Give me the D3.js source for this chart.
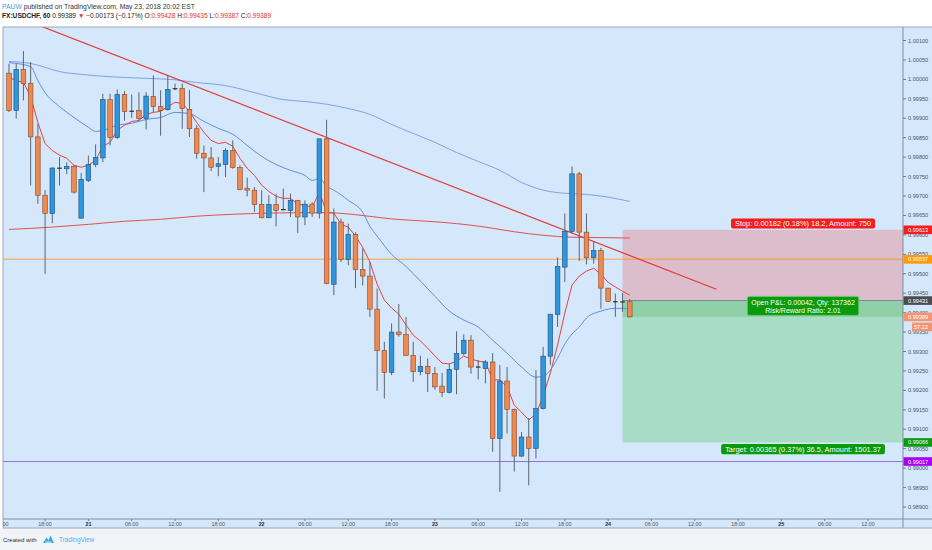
<!DOCTYPE html>
<html><head><meta charset="utf-8">
<script src="https://cdn.jsdelivr.net/npm/d3@7"></script>
<style>
html,body{margin:0;padding:0;background:#fff;}
svg{display:block;font-family:"Liberation Sans",Arial,sans-serif;}
</style></head><body>
<svg id="c" width="932" height="550"></svg>
<script>
// ---------- DATA ----------
const symbol = "FX:USDCHF, 60";
const publishedBy = "PAUW";
const publishedText = " published on TradingView.com, May 23, 2018 20:02 EST";
const change = -0.00173, changePct = -0.17;

// hourly bars, bar 0 = May 20 13:00
const open  = [1.00016,0.99920,1.00025,0.99990,0.99852,0.99702,0.99655,0.99772,0.99770,0.99776,
 0.99643,0.99740,0.99781,0.99798,0.99948,0.99850,0.99961,0.99918,0.99920,0.99899,
 0.99956,0.99930,0.99922,0.99976,0.99977,0.99923,0.99873,0.99810,0.99798,0.99776,
 0.99781,0.99817,0.99773,0.99720,0.99715,0.99678,0.99644,0.99678,0.99665,0.99663,
 0.99689,0.99646,0.99679,0.99656,0.99847,0.99473,0.99633,0.99537,0.99601,0.99511,
 0.99494,0.99409,0.99303,0.99246,0.99350,0.99344,0.99290,0.99248,0.99262,0.99243,
 0.99211,0.99195,0.99254,0.99295,0.99329,0.99260,0.99256,0.99273,0.99076,0.99224,
 0.99151,0.99031,0.99080,0.99051,0.99153,0.99288,0.99395,0.99517,0.99609,0.99757,
 0.99607,0.99541,0.99560,0.99463,0.99428,0.99427,0.99428];
const high  = [1.00040,1.00040,1.00073,1.00044,0.99886,0.99715,0.99774,0.99800,0.99787,0.99779,
 0.99759,0.99804,0.99833,0.99963,0.99963,0.99974,0.99970,0.99961,0.99967,0.99967,
 1.00010,0.99972,1.00010,0.99989,0.99989,0.99973,0.99882,0.99830,0.99826,0.99800,
 0.99823,0.99843,0.99779,0.99747,0.99723,0.99715,0.99702,0.99706,0.99719,0.99706,
 0.99689,0.99689,0.99684,0.99847,0.99896,0.99668,0.99642,0.99629,0.99607,0.99565,
 0.99530,0.99462,0.99325,0.99372,0.99422,0.99389,0.99325,0.99289,0.99282,0.99260,
 0.99245,0.99269,0.99352,0.99344,0.99342,0.99278,0.99278,0.99296,0.99265,0.99260,
 0.99153,0.99093,0.99129,0.99252,0.99312,0.99396,0.99542,0.99655,0.99776,0.99762,
 0.99655,0.99583,0.99567,0.99463,0.99449,0.99451,0.99435];
const low   = [0.99916,0.99899,0.99946,0.99727,0.99680,0.99500,0.99630,0.99727,0.99756,0.99706,
 0.99642,0.99736,0.99774,0.99787,0.99830,0.99847,0.99894,0.99901,0.99894,0.99871,
 0.99916,0.99855,0.99920,0.99972,0.99873,0.99852,0.99796,0.99710,0.99764,0.99751,
 0.99749,0.99770,0.99715,0.99699,0.99659,0.99643,0.99643,0.99622,0.99663,0.99646,
 0.99605,0.99625,0.99646,0.99642,0.99473,0.99445,0.99530,0.99522,0.99463,0.99470,
 0.99389,0.99199,0.99179,0.99239,0.99338,0.99289,0.99222,0.99239,0.99196,0.99202,
 0.99183,0.99192,0.99190,0.99290,0.99243,0.99228,0.99218,0.99042,0.98939,0.99089,
 0.98991,0.99029,0.98956,0.99025,0.99151,0.99265,0.99363,0.99479,0.99603,0.99533,
 0.99524,0.99526,0.99410,0.99427,0.99389,0.99402,0.99387];
const close = [0.99920,1.00025,0.99989,0.99852,0.99702,0.99655,0.99772,0.99771,0.99776,0.99710,
 0.99743,0.99781,0.99799,0.99948,0.99850,0.99961,0.99917,0.99918,0.99899,0.99957,
 0.99930,0.99920,0.99974,0.99976,0.99925,0.99873,0.99810,0.99798,0.99774,0.99783,
 0.99817,0.99773,0.99717,0.99715,0.99678,0.99644,0.99678,0.99663,0.99665,0.99689,
 0.99646,0.99679,0.99656,0.99847,0.99475,0.99633,0.99537,0.99601,0.99511,0.99494,
 0.99409,0.99302,0.99246,0.99350,0.99344,0.99290,0.99248,0.99262,0.99243,0.99209,
 0.99195,0.99254,0.99295,0.99329,0.99260,0.99260,0.99273,0.99076,0.99224,0.99151,
 0.99031,0.99080,0.99051,0.99153,0.99288,0.99396,0.99519,0.99609,0.99757,0.99607,
 0.99541,0.99560,0.99463,0.99429,0.99428,0.99428,0.99389];

// fast red moving average, one value per bar
const fastRed = [1.00005,0.99997,0.99992,0.99956,0.99889,0.99835,0.99817,0.99805,0.99797,0.99779,
 0.99774,0.99779,0.99792,0.99828,0.99838,0.99869,0.99882,0.99892,0.99894,0.99910,
 0.99915,0.99918,0.99930,0.99941,0.99938,0.99918,0.99889,0.99864,0.99843,0.99835,
 0.99838,0.99828,0.99797,0.99771,0.99753,0.99728,0.99712,0.99699,0.99694,0.99694,
 0.99679,0.99676,0.99671,0.99710,0.99658,0.99656,0.99627,0.99620,0.99597,0.99568,
 0.99530,0.99473,0.99432,0.99412,0.99396,0.99368,0.99342,0.99327,0.99309,0.99288,
 0.99270,0.99268,0.99275,0.99288,0.99281,0.99275,0.99273,0.99227,0.99227,0.99209,
 0.99162,0.99144,0.99124,0.99139,0.99185,0.99245,0.99317,0.99399,0.99471,0.99494,
 0.99507,0.99514,0.99499,0.99478,0.99466,0.99455,0.99445];

// medium blue moving average (read at these bars)
const midBlueBars = [0,3,4,5,7,9,11,12,13,15,17,19,21,23,25,27,29,31,33,35,37,39,41,42,43,44,45,47,49,50,
 51,53,55,57,59,61,63,65,67,69,71,73,74,75,76,77,78,79,80,82,84,86];
const midBlue = [1.00043,1.00033,0.99997,0.99966,0.99930,0.99902,0.99877,0.99866,0.99869,0.99882,
 0.99887,0.99897,0.99902,0.99915,0.99912,0.99892,0.99874,0.99859,0.99830,0.99802,
 0.99781,0.99766,0.99753,0.99740,0.99745,0.99725,0.99715,0.99689,0.99658,0.99622,
 0.99597,0.99550,0.99519,0.99481,0.99442,0.99404,0.99381,0.99363,0.99329,0.99296,
 0.99260,0.99234,0.99237,0.99252,0.99283,0.99319,0.99345,0.99363,0.99386,0.99404,
 0.99411,0.99411];

// slow blue moving average
const slowBlueBars = [0,3,5,7,10,13,16,20,23,26,30,34,38,41,44,47,50,53,56,59,62,65,68,71,74,77,80,83,86];
const slowBlue = [1.00046,1.00041,1.00031,1.00020,1.00013,1.00008,1.00005,1.00002,0.99999,0.99992,
 0.99984,0.99966,0.99948,0.99943,0.99936,0.99925,0.99910,0.99884,0.99861,0.99838,
 0.99812,0.99789,0.99766,0.99735,0.99715,0.99707,0.99704,0.99697,0.99686];

// slow red moving average
const slowRedBars = [0,6,11,16,21,26,31,36,41,44,48,53,58,62,66,70,74,78,82,86];
const slowRed = [0.99614,0.99620,0.99627,0.99635,0.99640,0.99648,0.99653,0.99656,0.99657,0.99657,
 0.99652,0.99641,0.99635,0.99629,0.99620,0.99608,0.99599,0.99594,0.99593,0.99592];

// drawings
const trendBars = [4, 98];
const trendPrices = [1.00140, 0.99460];
const hLinePrices = [0.99537, 0.99017];
const posBars = [85, 135];
const posEntry = 0.99431, posStop = 0.99613, posTarget = 0.99066;
const stopText = "Stop: 0.00182 (0.18%) 18.2, Amount: 750";
const pnlText = ["Open P&L: 0.00042, Qty: 137362", "Risk/Reward Ratio: 2.01"];
const targetText = "Target: 0.00365 (0.37%) 36.5, Amount: 1501.37";
const countdown = "57:22";

// axes
const priceTicks = [0.98900,0.98950,0.99000,0.99050,0.99100,0.99150,0.99200,0.99250,0.99300,0.99350,
 0.99400,0.99450,0.99500,0.99550,0.99600,0.99650,0.99700,0.99750,0.99800,0.99850,
 0.99900,0.99950,1.00000,1.00050,1.00100];
const timeTickBars = [-1,5,11,17,23,29,35,41,47,53,59,65,71,77,83,89,95,101,107,113,119];
const timeTickLabels = ["12:00","18:00","21","06:00","12:00","18:00","22","06:00","12:00","18:00",
 "23","06:00","12:00","18:00","24","06:00","12:00","18:00","25","06:00","12:00"];

// ---------- LAYOUT ----------
const W = 932, H = 550;
const L = 3, R = 903, T = 27, B = 519, FB = 528;
const svg = d3.select("#c");
const x = d3.scaleLinear().domain([-0.83, 123.85]).range([L, R]);
const y = d3.scaleLinear().domain([0.989, 1.001]).range([507, 40.5]);
const fmt = d3.format(".5f");
const bodyW = (x(1) - x(0)) * 0.64;
const last = close.length - 1;

svg.append("rect").attr("width", W).attr("height", H).attr("fill", "#ffffff");
svg.append("rect").attr("x", 0).attr("y", FB).attr("width", W).attr("height", H - FB).attr("fill", "#f1f3f6");
svg.append("rect").attr("x", L).attr("y", T).attr("width", W - L).attr("height", FB - T)
  .attr("fill", "#d4e7fb");

svg.append("clipPath").attr("id", "plotclip").append("rect")
  .attr("x", L).attr("y", T).attr("width", R - L).attr("height", B - T);
const plot = svg.append("g").attr("clip-path", "url(#plotclip)");

// position tool boxes
const px0 = x(posBars[0]), px1 = x(posBars[1]);
plot.append("rect").attr("x", px0).attr("y", y(posStop)).attr("width", px1 - px0)
  .attr("height", y(posEntry) - y(posStop)).attr("fill", "#dcbdcc");
plot.append("rect").attr("x", px0).attr("y", y(posEntry)).attr("width", px1 - px0)
  .attr("height", y(posTarget) - y(posEntry)).attr("fill", "#a9dcc6");
plot.append("rect").attr("x", px0).attr("y", y(posEntry)).attr("width", px1 - px0)
  .attr("height", y(close[last]) - y(posEntry)).attr("fill", "#8fd0a9");
plot.append("line").attr("x1", px0).attr("x2", px1).attr("y1", y(posEntry)).attr("y2", y(posEntry))
  .attr("stroke", "#7b8794").attr("stroke-width", 1);

// horizontal lines
plot.append("line").attr("x1", L).attr("x2", R).attr("y1", y(hLinePrices[0])).attr("y2", y(hLinePrices[0]))
  .attr("stroke", "rgba(255,150,20,0.55)").attr("stroke-width", 1.5);
plot.append("line").attr("x1", L).attr("x2", R).attr("y1", y(hLinePrices[1])).attr("y2", y(hLinePrices[1]))
  .attr("stroke", "#9370db").attr("stroke-width", 1);

// moving averages
const smooth = d3.line().x(d => x(d[0])).y(d => y(d[1])).curve(d3.curveMonotoneX);
const straight = d3.line().x(d => x(d[0])).y(d => y(d[1]));
function pairs(bars, vals) { return bars.map((b, i) => [b, vals[i]]); }
plot.append("path").attr("d", smooth(pairs(slowBlueBars, slowBlue)))
  .attr("fill", "none").attr("stroke", "#7ea3e6").attr("stroke-width", 1);
plot.append("path").attr("d", smooth(pairs(slowRedBars, slowRed)))
  .attr("fill", "none").attr("stroke", "#e2504d").attr("stroke-width", 1);
plot.append("path").attr("d", smooth(pairs(midBlueBars, midBlue)))
  .attr("fill", "none").attr("stroke", "#5f90dc").attr("stroke-width", 1);
plot.append("path").attr("d", straight(fastRed.map((v, i) => [i, v])))
  .attr("fill", "none").attr("stroke", "#e8413c").attr("stroke-width", 1);

// trend line
plot.append("path").attr("d", straight(pairs(trendBars, trendPrices)))
  .attr("fill", "none").attr("stroke", "#e53935").attr("stroke-width", 1.2);

// candles
const cg = plot.append("g");
close.forEach((c, i) => {
  const o = open[i], cx = x(i);
  cg.append("line").attr("x1", cx).attr("x2", cx).attr("y1", y(high[i])).attr("y2", y(low[i]))
    .attr("stroke", "#5b6671").attr("stroke-width", 1);
  const top = y(Math.max(o, c)), bot = y(Math.min(o, c));
  if (Math.abs(o - c) < 0.000015) {
    cg.append("rect").attr("x", cx - bodyW / 2).attr("y", (top + bot) / 2 - 0.6)
      .attr("width", bodyW).attr("height", 1.2).attr("fill", "#2b2b2b");
  } else {
    const up = c > o;
    cg.append("rect").attr("x", cx - bodyW / 2).attr("y", top).attr("width", bodyW)
      .attr("height", Math.max(1, bot - top))
      .attr("fill", up ? "#2f96dd" : "#f0894f")
      .attr("stroke", up ? "#1f4e7a" : "#86472a").attr("stroke-width", 0.6);
  }
});

// position labels
const cxLab = (px0 + px1) / 2;
function boxText(g, lines, cx, yBottom, lineH, size, fill, stroke) {
  const grp = g.append("g");
  const rect = grp.append("rect").attr("fill", fill).attr("rx", 2);
  if (stroke) rect.attr("stroke", stroke).attr("stroke-width", 0.8);
  let maxW = 0;
  const n = lines.length;
  lines.forEach((s, i) => {
    const t = grp.append("text").attr("x", cx).attr("y", yBottom - 2.6 - (n - 1 - i) * lineH)
      .attr("text-anchor", "middle").attr("font-size", size).attr("fill", "#ffffff").text(s);
    maxW = Math.max(maxW, t.node().getComputedTextLength());
  });
  const h = n * lineH + 3;
  rect.attr("x", cx - maxW / 2 - 4).attr("width", maxW + 8).attr("y", yBottom - h).attr("height", h);
}
boxText(svg, [stopText], cxLab, y(posStop) - 1.2, 7.2, 7.4, "#f51d1d", null);
boxText(svg, pnlText, cxLab, y(close[last]) - 1.5, 8.0, 7.0, "#0b9a0b", "#6fd06f");
boxText(svg, [targetText], cxLab, y(posTarget) + 11.8, 7.2, 7.4, "#0b9a0b", null);

// frame lines
svg.append("line").attr("x1", L).attr("x2", W).attr("y1", B).attr("y2", B).attr("stroke", "#7f8fa0");
svg.append("line").attr("x1", R).attr("x2", R).attr("y1", T).attr("y2", FB).attr("stroke", "#7f8fa0");
svg.append("line").attr("x1", L).attr("x2", L).attr("y1", T).attr("y2", FB).attr("stroke", "#9aa8b6");
svg.append("line").attr("x1", L).attr("x2", W).attr("y1", T).attr("y2", T).attr("stroke", "#9aa8b6");
svg.append("line").attr("x1", L).attr("x2", W).attr("y1", FB).attr("y2", FB).attr("stroke", "#9aa8b6");

// price axis
const pa = svg.append("g");
priceTicks.forEach(p => {
  pa.append("line").attr("x1", R).attr("x2", R + 3).attr("y1", y(p)).attr("y2", y(p)).attr("stroke", "#6d7b88");
  pa.append("text").attr("x", R + 5).attr("y", y(p) + 2).attr("font-size", 5.6).attr("fill", "#4c5866").text(fmt(p));
});

// time axis (clipped to the chart frame like the original)
svg.append("clipPath").attr("id", "timeclip").append("rect")
  .attr("x", L).attr("y", B).attr("width", R - L).attr("height", FB - B);
const ta = svg.append("g").attr("clip-path", "url(#timeclip)");
timeTickBars.forEach((b, i) => {
  const lab = timeTickLabels[i];
  const isDay = lab.length === 2;
  ta.append("line").attr("x1", x(b)).attr("x2", x(b)).attr("y1", B).attr("y2", B + 2).attr("stroke", "#6d7b88");
  ta.append("text").attr("x", x(b)).attr("y", B + 6.8).attr("text-anchor", "middle")
    .attr("font-size", 5.4).attr("font-weight", isDay ? "bold" : "normal")
    .attr("fill", isDay ? "#1f2a35" : "#4c5866").text(lab);
});

// colored price labels on axis
const axisLabelPrices = [posStop, hLinePrices[0], posEntry, close[last], posTarget, hLinePrices[1]];
const axisLabelColors = ["#f51d1d", "#ff9a0a", "#4a4d50", "#f39573", "#0b9a0b", "#a600f5"];
axisLabelPrices.forEach((p, i) => {
  const cy = y(p);
  pa.append("rect").attr("x", R + 0.5).attr("y", cy - 4.3).attr("width", W - R).attr("height", 8.6)
    .attr("fill", axisLabelColors[i]);
  pa.append("text").attr("x", R + 5).attr("y", cy + 2).attr("font-size", 5.6).attr("fill", "#ffffff").text(fmt(p));
});
{
  const cy = y(close[last]) + 10;
  pa.append("rect").attr("x", 912).attr("y", cy - 4.3).attr("width", W - 912).attr("height", 8.6)
    .attr("fill", "#f39573");
  pa.append("text").attr("x", 921).attr("y", cy + 2).attr("text-anchor", "middle")
    .attr("font-size", 5.6).attr("fill", "#ffffff").text(countdown);
}

// header
const h1 = svg.append("text").attr("x", 2).attr("y", 8.8).attr("font-size", 6.8).attr("fill", "#333");
h1.append("tspan").attr("fill", "#3d9be9").text(publishedBy);
h1.append("tspan").text(publishedText);
const h2 = svg.append("text").attr("x", 2).attr("y", 18.3).attr("font-size", 6.6).attr("fill", "#222");
const red = "#e0342e";
h2.append("tspan").attr("font-weight", "bold").text(symbol);
h2.append("tspan").text(" " + fmt(close[last]) + " ");
h2.append("tspan").attr("fill", red).text("▼");
h2.append("tspan").text(" \u2212" + fmt(Math.abs(change)) + " (\u2212" + Math.abs(changePct).toFixed(2) + "%) ");
[["O:", open[last]], [" H:", high[last]], [" L:", low[last]], [" C:", close[last]]].forEach(([k, v]) => {
  h2.append("tspan").text(k);
  h2.append("tspan").attr("fill", red).text(fmt(v));
});

// footer
svg.append("text").attr("x", 3).attr("y", 542).attr("font-size", 6.0).attr("fill", "#333").text("Created with");
const logo = svg.append("g").attr("transform", "translate(43,535)").attr("fill", "#3aa9de");
logo.append("path").attr("d", "M0,8 L3.5,2.5 L5.5,5 L7.5,0.5 L11,8 Z");
logo.append("path").attr("d", "M1.5,8 Q5.5,3.5 9.5,8 Z").attr("fill", "#8fd3f2");
svg.append("text").attr("x", 59).attr("y", 542).attr("font-size", 6.4).attr("fill", "#4fb3e6").text("TradingView");
</script>
</body></html>
